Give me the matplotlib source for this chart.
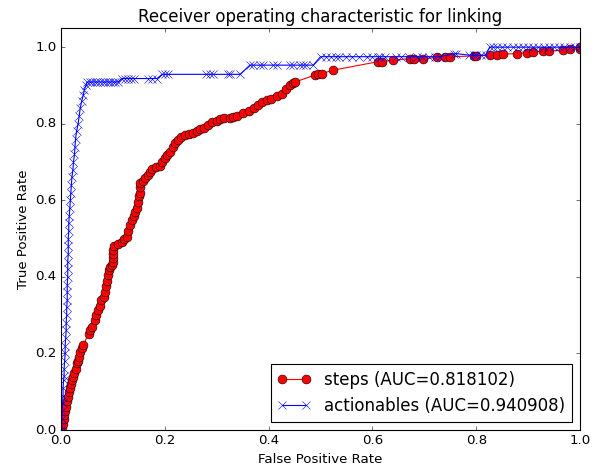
import matplotlib
matplotlib.use("Agg")
import matplotlib.pyplot as plt

steps_fpr = [0, 0.002, 0.004, 0.005, 0.006, 0.008, 0.01, 0.012, 0.014, 0.016, 0.018, 0.02, 0.022, 0.024,
             0.026, 0.028, 0.03, 0.032, 0.034, 0.037, 0.04, 0.043, 0.053, 0.056, 0.06, 0.066, 0.068, 0.072,
             0.075, 0.078, 0.082, 0.084, 0.086, 0.088, 0.09, 0.092, 0.095, 0.098, 0.1, 0.1, 0.101, 0.101,
             0.102, 0.11, 0.117, 0.122, 0.127, 0.13, 0.133, 0.136, 0.14, 0.143, 0.146, 0.149, 0.151, 0.152,
             0.152, 0.153, 0.158, 0.162, 0.167, 0.172, 0.175, 0.183, 0.191, 0.194, 0.2, 0.205, 0.21, 0.215,
             0.22, 0.226, 0.232, 0.239, 0.247, 0.255, 0.262, 0.268, 0.275, 0.284, 0.29, 0.3, 0.306, 0.315,
             0.326, 0.332, 0.34, 0.351, 0.362, 0.371, 0.38, 0.387, 0.396, 0.405, 0.416, 0.425, 0.433, 0.441,
             0.447, 0.451, 0.489, 0.495, 0.502, 0.525, 0.611, 0.618, 0.64, 0.672, 0.68, 0.698, 0.724, 0.74,
             0.75, 0.795, 0.8, 0.827, 0.84, 0.852, 0.878, 0.897, 0.91, 0.929, 0.94, 0.968, 0.98, 1.0, 1.0]
steps_tpr = [0, 0.005, 0.015, 0.03, 0.04, 0.05, 0.06, 0.075, 0.087, 0.1, 0.11, 0.12, 0.13, 0.139,
             0.15, 0.16, 0.174, 0.18, 0.19, 0.204, 0.215, 0.222, 0.252, 0.261, 0.27, 0.287, 0.3, 0.313,
             0.325, 0.339, 0.348, 0.36, 0.375, 0.39, 0.405, 0.418, 0.425, 0.43, 0.44, 0.45, 0.46, 0.47,
             0.48, 0.485, 0.49, 0.5, 0.505, 0.52, 0.535, 0.548, 0.56, 0.57, 0.58, 0.595, 0.61, 0.62,
             0.635, 0.645, 0.65, 0.657, 0.665, 0.675, 0.683, 0.686, 0.69, 0.7, 0.71, 0.718, 0.727, 0.74,
             0.75, 0.757, 0.765, 0.77, 0.772, 0.775, 0.78, 0.785, 0.79, 0.796, 0.805, 0.807, 0.812, 0.815,
             0.815, 0.818, 0.82, 0.827, 0.833, 0.84, 0.848, 0.857, 0.862, 0.865, 0.872, 0.877, 0.89, 0.9,
             0.906, 0.909, 0.927, 0.93, 0.931, 0.94, 0.962, 0.962, 0.966, 0.97, 0.97, 0.97, 0.973, 0.973,
             0.975, 0.977, 0.977, 0.979, 0.98, 0.982, 0.983, 0.986, 0.987, 0.99, 0.99, 0.992, 0.994, 0.996, 1.0]

act_fpr = [0, 0, 0.002, 0.002, 0.003, 0.004, 0.004, 0.005, 0.006, 0.006, 0.007, 0.008, 0.008, 0.009,
           0.01, 0.01, 0.011, 0.011, 0.012, 0.012, 0.012, 0.013, 0.013, 0.013, 0.014, 0.014, 0.014, 0.015,
           0.015, 0.016, 0.017, 0.018, 0.019, 0.02, 0.021, 0.023, 0.024, 0.026, 0.027, 0.028, 0.03, 0.033,
           0.035, 0.037, 0.04, 0.043, 0.045, 0.048, 0.05, 0.055, 0.06, 0.065, 0.07, 0.075, 0.08, 0.085,
           0.09, 0.095, 0.1, 0.105, 0.11, 0.117, 0.124, 0.13, 0.135, 0.14, 0.168, 0.175, 0.185, 0.195,
           0.2, 0.206, 0.28, 0.287, 0.293, 0.322, 0.326, 0.345, 0.364, 0.37, 0.383, 0.39, 0.409, 0.416,
           0.441, 0.447, 0.46, 0.466, 0.472, 0.486, 0.5, 0.51, 0.52, 0.53, 0.536, 0.55, 0.56, 0.575,
           0.59, 0.6, 0.61, 0.615, 0.625, 0.645, 0.655, 0.67, 0.685, 0.695, 0.71, 0.72, 0.73, 0.758,
           0.762, 0.787, 0.795, 0.8, 0.81, 0.818, 0.826, 0.832, 0.84, 0.85, 0.86, 0.87, 0.88, 0.89,
           0.9, 0.91, 0.92, 0.93, 0.94, 0.95, 0.96, 0.97, 0.98, 0.99, 1.0]
act_tpr = [0, 0.01, 0.03, 0.05, 0.07, 0.09, 0.11, 0.13, 0.14, 0.16, 0.18, 0.2, 0.22, 0.24,
           0.26, 0.28, 0.3, 0.32, 0.34, 0.36, 0.38, 0.4, 0.42, 0.44, 0.46, 0.48, 0.5, 0.52,
           0.54, 0.56, 0.58, 0.6, 0.62, 0.64, 0.66, 0.68, 0.7, 0.72, 0.74, 0.76, 0.78, 0.8,
           0.82, 0.84, 0.86, 0.875, 0.888, 0.9, 0.909, 0.909, 0.909, 0.909, 0.909, 0.909, 0.909, 0.909,
           0.909, 0.909, 0.909, 0.909, 0.909, 0.918, 0.918, 0.918, 0.918, 0.918, 0.918, 0.918, 0.918, 0.929,
           0.929, 0.929, 0.929, 0.929, 0.929, 0.929, 0.929, 0.929, 0.953, 0.953, 0.953, 0.953, 0.953, 0.953,
           0.953, 0.953, 0.953, 0.953, 0.953, 0.953, 0.975, 0.975, 0.975, 0.975, 0.975, 0.975, 0.975, 0.975,
           0.975, 0.975, 0.975, 0.975, 0.975, 0.975, 0.975, 0.975, 0.975, 0.975, 0.975, 0.975, 0.975, 0.983,
           0.983, 0.979, 0.979, 0.979, 0.979, 0.979, 1.0, 1.0, 1.0, 1.0, 1.0, 1.0, 1.0, 1.0,
           1.0, 1.0, 1.0, 1.0, 1.0, 1.0, 1.0, 1.0, 1.0, 1.0, 1.0]

labels = ["steps (AUC=0.818102)", "actionables (AUC=0.940908)"]
title = "Receiver operating characteristic for linking"

plt.style.use("classic")
fig = plt.figure(figsize=(599 / 80, 469 / 80), dpi=80, facecolor="white")
ax = fig.add_axes([61 / 599, 39 / 469, 519 / 599, 402 / 469])
ax.plot(steps_fpr, steps_tpr, "o-", color="red", markeredgecolor="black",
        markersize=8, label=labels[0])
ax.plot(act_fpr, act_tpr, "x-", color="blue", markersize=7.5, label=labels[1])
ax.set_xlim(0.0, 1.0)
ax.set_ylim(0.0, 1.05)
ax.set_xlabel("False Positive Rate")
ax.set_ylabel("True Positive Rate")
ax.set_title(title, fontsize=15)
ax.legend(loc="lower right", prop={"size": 15})
fig.savefig("out.png", dpi=80, facecolor="white")
